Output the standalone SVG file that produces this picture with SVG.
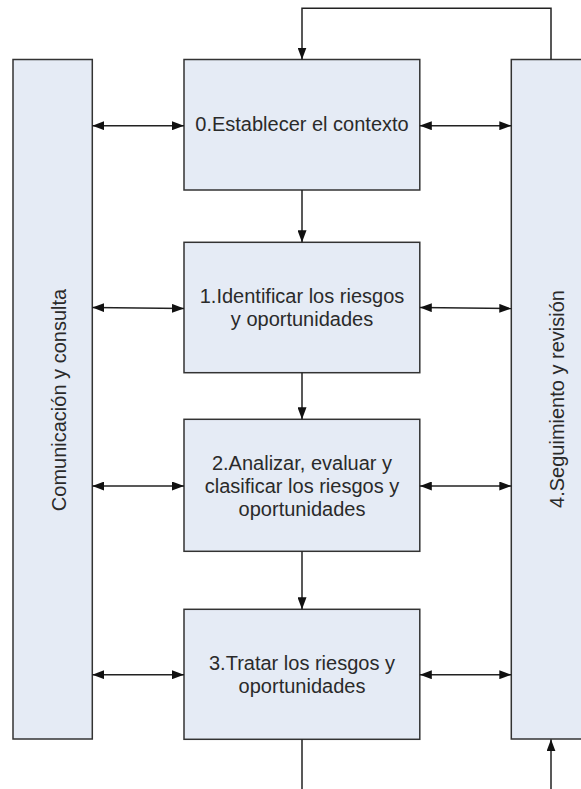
<svg xmlns="http://www.w3.org/2000/svg" width="581" height="789" viewBox="0 0 581 789">
  <style>
    .box { fill: #e5ebf5; stroke: #333333; stroke-width: 1.5; }
    .lbl { font-family: "Liberation Sans", Arial, sans-serif; font-size: 20px; fill: #2a2a2a; text-anchor: middle; }
    .con { fill: none; stroke: #222222; stroke-width: 1.5; }
  </style>
  <defs>
    <marker id="head" viewBox="0 0 12 9" refX="12" refY="4.5" markerWidth="12" markerHeight="9" markerUnits="userSpaceOnUse" orient="auto-start-reverse">
      <path d="M0,0 L12,4.5 L0,9 z" fill="#111111"/>
    </marker>
  </defs>

  <rect width="581" height="789" fill="#ffffff"/>

  <!-- side columns -->
  <g id="comunicacion">
    <rect class="box" x="13" y="59.5" width="79.3" height="679.5"/>
    <text class="lbl" transform="translate(66,400) rotate(-90)">Comunicación y consulta</text>
  </g>
  <g id="seguimiento">
    <rect class="box" x="511.3" y="59.5" width="85" height="679.5"/>
    <text class="lbl" transform="translate(563.5,399) rotate(-90)">4.Seguimiento y revisión</text>
  </g>

  <!-- process steps -->
  <g id="paso0">
    <rect class="box" x="184" y="59.5" width="235.8" height="130.5"/>
    <text class="lbl" x="302" y="131">0.Establecer el contexto</text>
  </g>
  <g id="paso1">
    <rect class="box" x="184" y="242.3" width="235.8" height="130.4"/>
    <text class="lbl" x="302" y="302.5">1.Identificar los riesgos</text>
    <text class="lbl" x="302" y="325.5">y oportunidades</text>
  </g>
  <g id="paso2">
    <rect class="box" x="184" y="419.3" width="235.8" height="132"/>
    <text class="lbl" x="302" y="470">2.Analizar, evaluar y</text>
    <text class="lbl" x="302" y="493">clasificar los riesgos y</text>
    <text class="lbl" x="302" y="516">oportunidades</text>
  </g>
  <g id="paso3">
    <rect class="box" x="184" y="609.3" width="235.8" height="130"/>
    <text class="lbl" x="302" y="670">3.Tratar los riesgos y</text>
    <text class="lbl" x="302" y="693">oportunidades</text>
  </g>

  <!-- connectors -->
  <g id="conectores">
    <polyline class="con" points="551,59.5 551,8.3 302,8.3 302,59.5" marker-end="url(#head)"/>
    <line class="con" x1="302" y1="190" x2="302" y2="242.3" marker-end="url(#head)"/>
    <line class="con" x1="302" y1="372.7" x2="302" y2="419.3" marker-end="url(#head)"/>
    <line class="con" x1="302" y1="551.3" x2="302" y2="609.3" marker-end="url(#head)"/>
    <line class="con" x1="302" y1="739.3" x2="302" y2="789"/>
    <line class="con" x1="551" y1="789" x2="551" y2="739.3" marker-end="url(#head)"/>

    <line class="con" x1="92.3" y1="125.7" x2="184" y2="125.7" marker-start="url(#head)" marker-end="url(#head)"/>
    <line class="con" x1="419.8" y1="125.7" x2="511.3" y2="125.7" marker-start="url(#head)" marker-end="url(#head)"/>
    <line class="con" x1="92.3" y1="307.5" x2="184" y2="308.5" marker-start="url(#head)" marker-end="url(#head)"/>
    <line class="con" x1="419.8" y1="307.5" x2="511.3" y2="308.5" marker-start="url(#head)" marker-end="url(#head)"/>
    <line class="con" x1="92.3" y1="486" x2="184" y2="486" marker-start="url(#head)" marker-end="url(#head)"/>
    <line class="con" x1="419.8" y1="486" x2="511.3" y2="486" marker-start="url(#head)" marker-end="url(#head)"/>
    <line class="con" x1="92.3" y1="674.7" x2="184" y2="674.7" marker-start="url(#head)" marker-end="url(#head)"/>
    <line class="con" x1="419.8" y1="674.7" x2="511.3" y2="674.7" marker-start="url(#head)" marker-end="url(#head)"/>
  </g>
</svg>
